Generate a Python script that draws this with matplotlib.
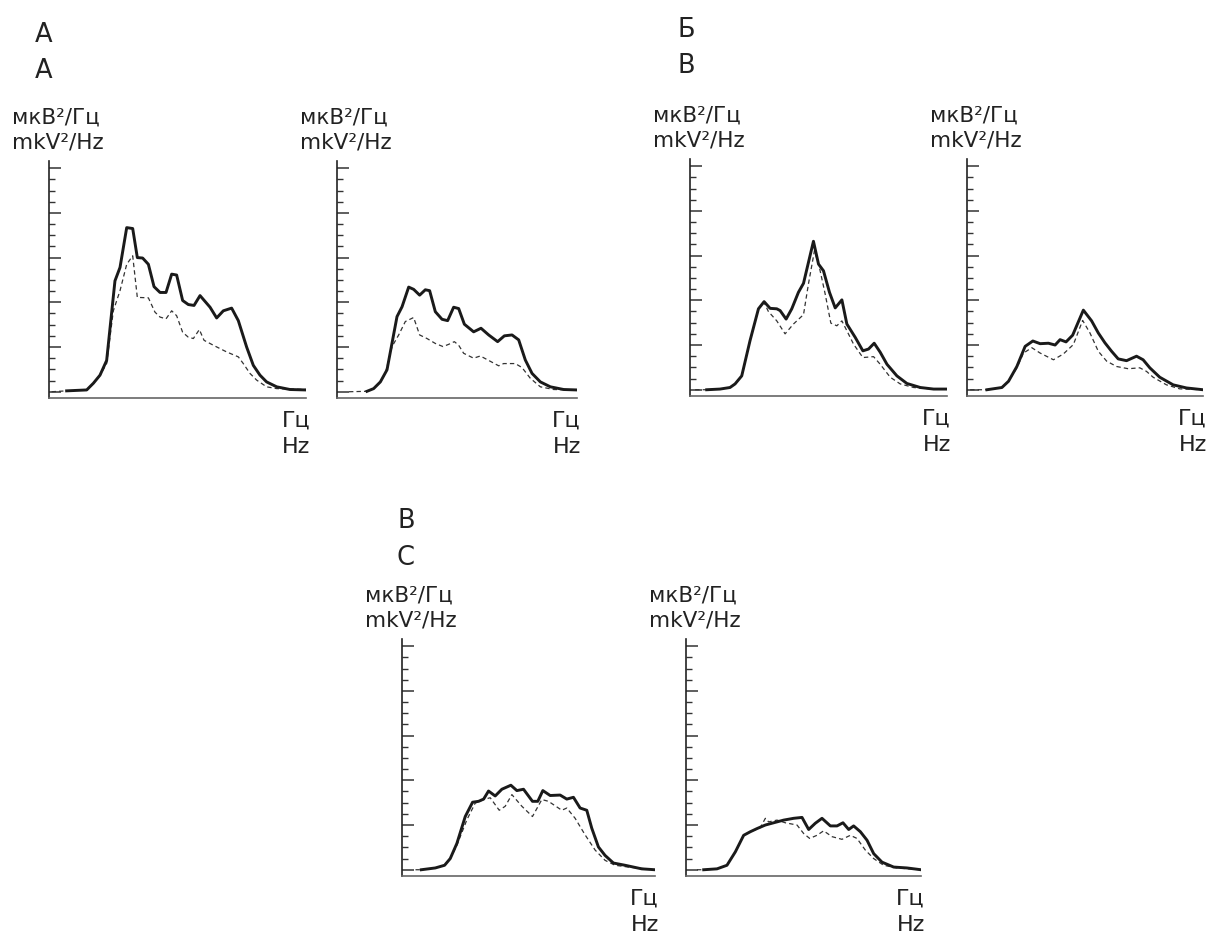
import matplotlib.pyplot as plt
from matplotlib.ticker import MultipleLocator

plt.rcParams['font.family'] = ['DejaVu Sans']

W, H = 1215, 938

# Spectra: frequency (Hz) and power (axis units, 1 major tick = 1)
# Panel A, left
a1_f_solid = [2.06, 4.4, 5.18, 5.95, 6.73, 7.7, 8.29, 9.07, 9.77, 10.31, 10.93, 11.6, 12.26, 12.96,
              13.66, 14.32, 14.9, 15.6, 16.26, 16.93, 17.63, 18.8, 19.57, 20.35, 21.32, 22.1, 23.07,
              23.85, 24.63, 25.4, 26.58, 28.13, 30.0]
a1_v_solid = [0.02, 0.04, 0.19, 0.37, 0.7, 2.48, 2.78, 3.67, 3.65, 3.0, 2.99, 2.85, 2.35, 2.22,
              2.22, 2.63, 2.61, 2.04, 1.95, 1.93, 2.15, 1.89, 1.65, 1.81, 1.87, 1.59, 1.0,
              0.59, 0.37, 0.22, 0.11, 0.05, 0.04]
a1_f_dash = [0.3, 2.06, 4.4, 5.18, 5.95, 6.73, 7.51, 8.29, 9.07, 9.77, 10.31, 11.6, 12.37, 12.96,
             13.66, 14.32, 14.9, 15.6, 16.26, 16.85, 17.55, 18.1, 19.18, 20.74, 22.1, 22.68, 23.46,
             24.24, 25.4, 26.58, 30.0]
a1_v_dash = [0.0, 0.02, 0.04, 0.19, 0.37, 0.63, 1.81, 2.26, 2.85, 3.04, 2.11, 2.1, 1.78, 1.67,
             1.63, 1.81, 1.7, 1.33, 1.22, 1.19, 1.39, 1.15, 1.04, 0.89, 0.78, 0.63, 0.41,
             0.26, 0.11, 0.07, 0.05]

# Panel A, right
a2_f_solid = [3.75, 4.58, 5.42, 6.25, 7.5, 8.13, 8.96, 9.58, 10.33, 11.04, 11.58, 12.29, 13.13,
              13.83, 14.58, 15.21, 15.92, 17.08, 18.0, 18.96, 20.08, 20.92, 21.88, 22.71, 23.54,
              24.38, 25.42, 26.67, 28.33, 30.0]
a2_v_solid = [0.01, 0.07, 0.22, 0.49, 1.68, 1.9, 2.34, 2.29, 2.16, 2.28, 2.26, 1.79, 1.62,
              1.59, 1.89, 1.86, 1.51, 1.34, 1.42, 1.27, 1.12, 1.25, 1.27, 1.16, 0.71,
              0.41, 0.22, 0.11, 0.05, 0.04]
a2_f_dash = [1.5, 3.75, 4.58, 5.42, 6.04, 6.88, 7.71, 8.54, 9.58, 10.33, 11.25, 12.29, 13.25, 13.96,
             14.67, 15.21, 15.83, 17.08, 17.92, 18.75, 20.21, 20.83, 22.29, 23.13, 24.17, 25.42,
             27.08, 30.0]
a2_v_dash = [0.0, 0.01, 0.07, 0.22, 0.41, 1.01, 1.27, 1.57, 1.66, 1.27, 1.19, 1.08, 1.01, 1.06,
             1.12, 1.04, 0.86, 0.75, 0.8, 0.72, 0.58, 0.63, 0.63, 0.54, 0.3, 0.11,
             0.05, 0.04]

# Panel B, left
b1_f_solid = [1.95, 3.5, 4.67, 5.26, 6.04, 7.01, 7.99, 8.65, 9.35, 10.13, 10.52, 11.22, 11.88,
              12.66, 13.25, 13.83, 14.41, 15.0, 15.58, 16.28, 16.95, 17.73, 18.31, 19.29, 20.18,
              20.84, 21.5, 22.2, 22.99, 24.15, 25.32, 26.88, 28.44, 30.0]
b1_v_solid = [0.0, 0.015, 0.05, 0.13, 0.31, 1.1, 1.81, 1.97, 1.82, 1.81, 1.77, 1.58, 1.81,
              2.18, 2.38, 2.85, 3.32, 2.81, 2.66, 2.18, 1.83, 2.01, 1.47, 1.17, 0.87,
              0.91, 1.04, 0.84, 0.57, 0.31, 0.14, 0.05, 0.015, 0.015]
b1_f_dash = [0.6, 1.95, 3.5, 4.67, 5.26, 6.04, 7.01, 7.99, 8.65, 9.15, 10.13, 11.1, 12.08, 13.25,
             13.83, 14.53, 15.1, 15.78, 16.44, 17.14, 17.73, 18.31, 19.09, 20.18, 21.43, 22.2,
             23.37, 24.54, 26.1, 28.44, 30.0]
b1_v_dash = [0.0, 0.0, 0.015, 0.05, 0.13, 0.31, 1.1, 1.81, 1.95, 1.75, 1.54, 1.25, 1.47, 1.68,
             2.37, 3.11, 2.74, 2.14, 1.49, 1.43, 1.54, 1.32, 1.02, 0.72, 0.74, 0.57,
             0.28, 0.13, 0.05, 0.015, 0.015]

# Panel B, right
b2_f_solid = [2.53, 4.44, 5.28, 6.34, 7.39, 8.37, 9.3, 10.35, 11.2, 11.83, 12.59, 13.43, 14.79,
              15.84, 16.69, 17.53, 18.38, 19.22, 20.28, 21.55, 22.39, 23.24, 24.5, 26.2, 27.9, 30.0]
b2_v_solid = [0.0, 0.05, 0.19, 0.52, 0.97, 1.09, 1.03, 1.04, 1.0, 1.12, 1.07, 1.22, 1.78,
              1.54, 1.27, 1.05, 0.86, 0.69, 0.65, 0.75, 0.67, 0.49, 0.28, 0.11, 0.04, 0.0]
b2_f_dash = [0.4, 2.53, 4.44, 5.28, 6.34, 7.18, 8.24, 9.3, 10.99, 12.25, 13.52, 14.7, 15.63, 16.69,
             17.75, 19.01, 20.49, 21.97, 22.82, 23.66, 25.35, 27.04, 30.0]
b2_v_dash = [0.0, 0.0, 0.05, 0.19, 0.49, 0.82, 0.94, 0.82, 0.67, 0.8, 1.01, 1.55, 1.27, 0.86,
             0.64, 0.52, 0.47, 0.49, 0.41, 0.28, 0.11, 0.02, 0.0]

# Panel C, left
c1_f_solid = [2.29, 3.95, 5.05, 5.72, 6.51, 7.5, 8.37, 9.08, 9.68, 10.26, 11.05, 11.84, 12.91,
              13.62, 14.41, 15.47, 16.1, 16.7, 17.57, 18.75, 19.54, 20.33, 21.12, 21.91, 22.5,
              23.29, 24.08, 25.07, 26.45, 28.42, 30.0]
c1_v_solid = [0.0, 0.04, 0.1, 0.25, 0.59, 1.19, 1.51, 1.53, 1.58, 1.76, 1.65, 1.8, 1.89,
              1.77, 1.8, 1.53, 1.53, 1.77, 1.66, 1.67, 1.58, 1.62, 1.38, 1.33, 0.93,
              0.51, 0.32, 0.15, 0.1, 0.02, 0.0]
c1_f_dash = [1.6, 2.29, 3.95, 5.05, 5.72, 6.51, 7.7, 8.68, 9.68, 10.46, 11.53, 12.24, 13.03, 14.21,
             15.47, 16.58, 17.37, 18.95, 19.54, 20.53, 21.71, 22.9, 24.08, 25.27, 26.84, 30.0]
c1_v_dash = [0.0, 0.0, 0.04, 0.1, 0.25, 0.55, 1.12, 1.49, 1.57, 1.61, 1.33, 1.42, 1.68, 1.42,
             1.19, 1.57, 1.53, 1.33, 1.38, 1.15, 0.78, 0.44, 0.21, 0.1, 0.06, 0.0]

# Panel C, right
c2_f_solid = [2.26, 3.96, 5.23, 6.3, 7.36, 8.21, 9.06, 10.13, 11.19, 12.47, 13.74, 14.81, 15.66,
              16.51, 17.36, 18.43, 19.28, 20.04, 20.77, 21.4, 22.26, 23.11, 23.96, 25.02, 26.51,
              28.21, 30.0]
c2_v_solid = [0.0, 0.02, 0.1, 0.4, 0.77, 0.85, 0.92, 1.0, 1.05, 1.11, 1.15, 1.17, 0.9,
              1.04, 1.15, 0.98, 0.98, 1.05, 0.9, 0.98, 0.85, 0.66, 0.36, 0.17, 0.06,
              0.04, 0.0]
c2_f_dash = [1.4, 2.26, 3.96, 5.23, 6.3, 7.36, 8.21, 9.48, 10.13, 10.55, 11.62, 12.68, 14.17,
             15.02, 15.79, 16.72, 17.57, 18.64, 19.91, 20.98, 21.83, 22.89, 23.96, 25.23, 26.94, 30.0]
c2_v_dash = [0.0, 0.0, 0.02, 0.1, 0.4, 0.77, 0.85, 0.94, 1.15, 1.07, 1.11, 1.05, 1.0,
             0.81, 0.7, 0.77, 0.87, 0.74, 0.68, 0.77, 0.7, 0.44, 0.25, 0.1, 0.04, 0.0]

fig = plt.figure(figsize=(W / 100, H / 100), dpi=100)
PANEL_H = 237  # px, same for all panels


def px_text(x, y, s, **kw):
    fig.text(x / W, 1 - y / H, s, color='#222222', va='baseline', **kw)


def add_panel(left, bottom, width, fs, vs, fd, vd):
    ax = fig.add_axes([left / W, 1 - bottom / H, width / W, PANEL_H / H])
    ax.plot(fd, vd, color='#333333', lw=0.9, ls=(0, (3.5, 2.5)))
    ax.plot(fs, vs, color='#1a1a1a', lw=2.1, solid_joinstyle='round')
    ax.set_xlim(0, 30)
    ax.set_ylim(-0.14, 5.16)
    for side in ('top', 'right'):
        ax.spines[side].set_visible(False)
    ax.spines['left'].set_color('#222222')
    ax.spines['left'].set_linewidth(1.2)
    ax.spines['bottom'].set_color('#666666')
    ax.spines['bottom'].set_linewidth(1.2)
    ax.set_xticks([])
    ax.yaxis.set_major_locator(MultipleLocator(1))
    ax.yaxis.set_minor_locator(MultipleLocator(0.25))
    ax.tick_params(axis='y', which='major', direction='in', length=8.5, width=1.1,
                   color='#333333', labelleft=False)
    ax.tick_params(axis='y', which='minor', direction='in', length=4.3, width=1.0,
                   color='#333333')
    top = bottom - PANEL_H
    px_text(left - 37, top - 37, 'мкВ²/Гц', fontsize=15.5, ha='left')
    px_text(left - 37, top - 13, 'mkV²/Hz', fontsize=15.5, ha='left')
    px_text(left + width + 4, bottom + 29, 'Гц', fontsize=16, ha='right')
    px_text(left + width + 4, bottom + 55, 'Hz', fontsize=16, ha='right')
    return ax


add_panel(49, 398, 257, a1_f_solid, a1_v_solid, a1_f_dash, a1_v_dash)
add_panel(337, 398, 240, a2_f_solid, a2_v_solid, a2_f_dash, a2_v_dash)
add_panel(690, 396, 257, b1_f_solid, b1_v_solid, b1_f_dash, b1_v_dash)
add_panel(967, 396, 236, b2_f_solid, b2_v_solid, b2_f_dash, b2_v_dash)
add_panel(402, 876, 253, c1_f_solid, c1_v_solid, c1_f_dash, c1_v_dash)
add_panel(686, 876, 235, c2_f_solid, c2_v_solid, c2_f_dash, c2_v_dash)

# panel letters (Russian / English)
px_text(35, 42, 'А', fontsize=18.5, ha='left')
px_text(35, 78, 'A', fontsize=18.5, ha='left')
px_text(678, 37, 'Б', fontsize=18.5, ha='left')
px_text(678, 73, 'B', fontsize=18.5, ha='left')
px_text(397, 528, 'В', fontsize=18.5, ha='left')
px_text(397, 565, 'C', fontsize=18.5, ha='left')

fig.savefig('out.png', dpi=100, facecolor='white')
